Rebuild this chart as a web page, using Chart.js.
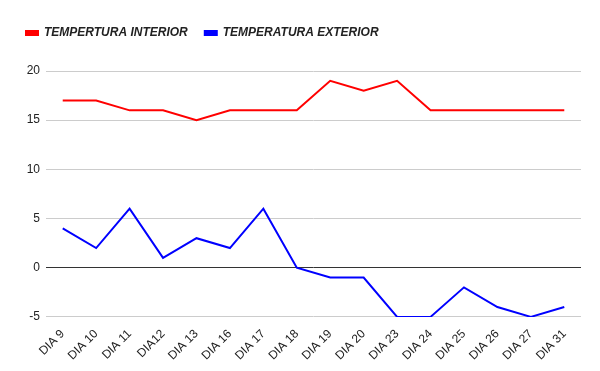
<!DOCTYPE html>
<html>
<head>
<meta charset="utf-8">
<script src="https://cdn.jsdelivr.net/npm/chart.js@4/dist/chart.umd.min.js"></script>
<style>
html,body{margin:0;padding:0;background:#fff;}
#wrap{width:600px;height:371px;position:relative;}
</style>
</head>
<body>
<div id="wrap"><canvas id="c"></canvas></div>
<script>
const categories = ["DIA 9","DIA 10","DIA 11","DIA12","DIA 13","DIA 16","DIA 17","DIA 18","DIA 19","DIA 20","DIA 23","DIA 24","DIA 25","DIA 26","DIA 27","DIA 31"];
const interior = [17,17,16,16,15,16,16,16,19,18,19,16,16,16,16,16];
const exterior = [4,2,6,1,3,2,6,0,-1,-1,-5,-5,-2,-4,-5,-4];
const seriesNames = ["TEMPERTURA INTERIOR","TEMPERATURA EXTERIOR"];
const yTicks = [-5,0,5,10,15,20];

Chart.defaults.font.family = "'Liberation Sans', Arial, sans-serif";
Chart.defaults.color = "#222";

const legendSpacer = {
  id: 'legendSpacer',
  beforeUpdate(chart) {
    const lg = chart.legend;
    if (lg && !lg._patched) {
      const orig = lg.fit;
      lg.fit = function() { orig.call(this); this.height += 22; };
      lg._patched = true;
    }
  }
};

new Chart(document.getElementById('c'), {
  type: 'line',
  data: {
    labels: categories,
    datasets: [
      {label: seriesNames[0], data: interior, borderColor: '#ff0000', backgroundColor: '#ff0000', borderWidth: 2, pointRadius: 0, tension: 0},
      {label: seriesNames[1], data: exterior, borderColor: '#0000ff', backgroundColor: '#0000ff', borderWidth: 2, pointRadius: 0, tension: 0}
    ]
  },
  plugins: [legendSpacer],
  options: {
    responsive: true,
    maintainAspectRatio: false,
    animation: false,
    layout: {padding: {left: 9, right: 19, top: 10, bottom: 6}},
    plugins: {
      tooltip: {enabled: false},
      legend: {
        position: 'top',
        align: 'start',
        labels: {
          boxWidth: 12,
          boxHeight: 4,
          padding: 17,
          font: {size: 12, style: 'italic', weight: 'bold'},
          color: '#222'
        }
      }
    },
    scales: {
      x: {
        offset: true,
        grid: {display: false},
        border: {display: false},
        ticks: {minRotation: 45, maxRotation: 45, autoSkip: false, font: {size: 12}, color: '#222', padding: 2}
      },
      y: {
        min: -5, max: 20,
        afterBuildTicks: (axis) => { axis.ticks = yTicks.map(v => ({value: v})); },
        afterFit: (axis) => { axis.width = 37; },
        grid: {
          drawTicks: false,
          color: (ctx) => (ctx.tick && ctx.tick.value === 0) ? '#333' : '#ccc',
          lineWidth: 1
        },
        border: {display: false},
        ticks: {font: {size: 12}, color: '#222', padding: 6}
      }
    }
  }
});
</script>
</body>
</html>
